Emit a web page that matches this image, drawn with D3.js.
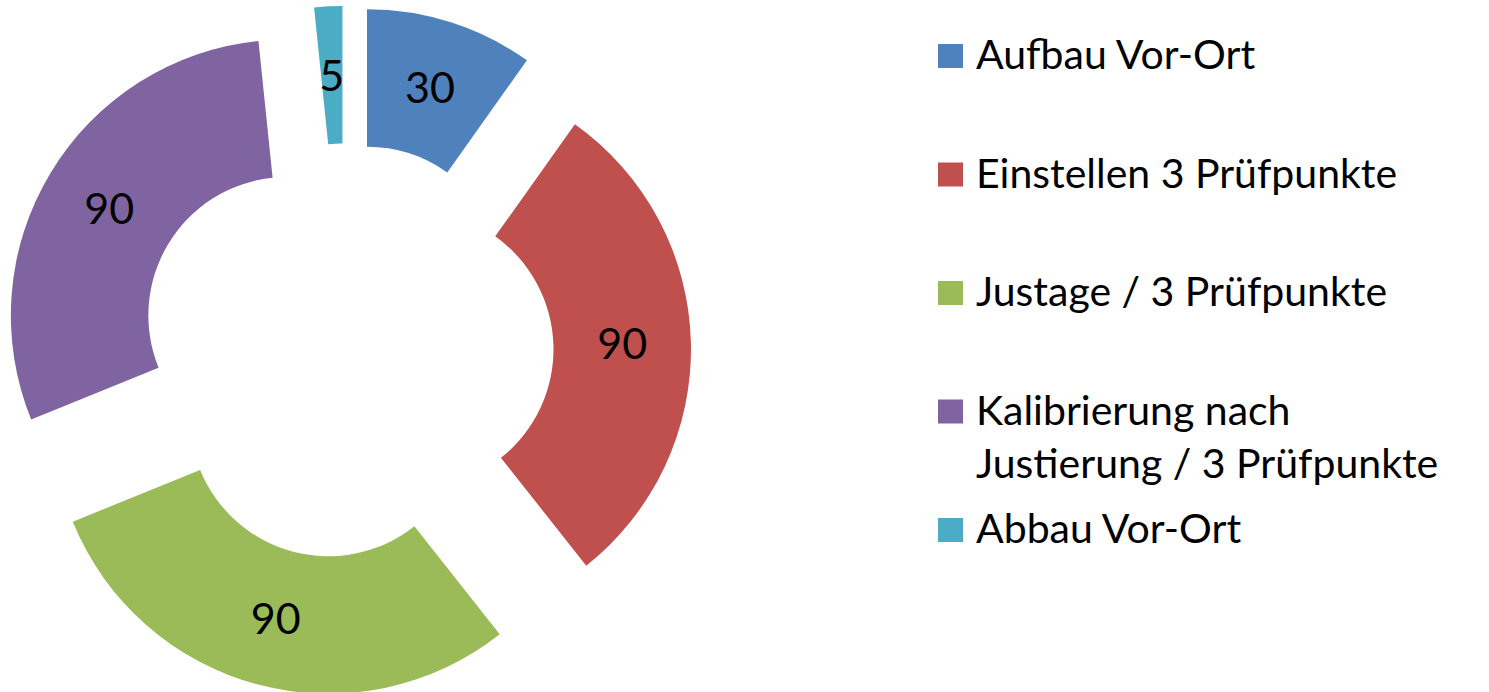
<!DOCTYPE html>
<html>
<head>
<meta charset="utf-8">
<script src="https://cdn.jsdelivr.net/npm/d3@7"></script>
<style>
  body { margin: 0; background: #fff; }
  svg { display: block; font-family: Lato, "Open Sans", sans-serif; }
</style>
</head>
<body>
<svg id="chart" width="1489" height="692"></svg>
<script>
// chart data
var categories = ["Aufbau Vor-Ort", "Einstellen 3 Prüfpunkte", "Justage / 3 Prüfpunkte",
                  "Kalibrierung nach Justierung / 3 Prüfpunkte", "Abbau Vor-Ort"];
var values = [30, 90, 90, 90, 5];
var colors = ["#4F81BD", "#C0504D", "#9BBB59", "#8064A2", "#4BACC6"];

var svg = d3.select("#chart"),
    cx = 346, cy = 351,
    outerR = 276, innerR = 138.5,
    explode = outerR * 0.25;

var pie = d3.pie().sort(null).value(function(d) { return d; });
var arc = d3.arc().innerRadius(innerR).outerRadius(outerR);
var arcs = pie(values);

var g = svg.append("g").attr("transform", "translate(" + cx + "," + cy + ")");

// each slice pushed outward along its middle angle
function shift(d) {
    var a = (d.startAngle + d.endAngle) / 2;
    return [Math.sin(a) * explode, -Math.cos(a) * explode];
}

var slice = g.selectAll(".slice")
    .data(arcs)
    .enter().append("g")
      .attr("class", "slice")
      .attr("transform", function(d) { var s = shift(d); return "translate(" + s[0] + "," + s[1] + ")"; });

slice.append("path")
    .attr("d", arc)
    .attr("fill", function(d, i) { return colors[i]; });

slice.append("text")
    .attr("transform", function(d) { return "translate(" + arc.centroid(d) + ")"; })
    .attr("text-anchor", "middle")
    .attr("dy", "0.36em")
    .style("font-size", "43px")
    .attr("fill", "#000")
    .text(function(d) { return d.data; });

// legend
var legendX = 938, legendTop = 69, legendStep = 118.5, lineH = 53, maxW = 470;

var legend = svg.append("g");

categories.forEach(function(name, i) {
    var base = legendTop + i * legendStep;
    legend.append("rect")
        .attr("x", legendX)
        .attr("y", base - 25)
        .attr("width", 25)
        .attr("height", 24)
        .attr("fill", colors[i]);

    var t = legend.append("text")
        .attr("x", legendX + 38)
        .attr("y", base)
        .style("font-size", "41px")
        .attr("fill", "#000");

    // wrap long names
    var words = name.split(" "), line = [], lineNo = 0;
    var tspan = t.append("tspan").attr("x", legendX + 38).attr("y", base);
    words.forEach(function(w) {
        line.push(w);
        tspan.text(line.join(" "));
        if (tspan.node().getComputedTextLength() > maxW && line.length > 1) {
            line.pop();
            tspan.text(line.join(" "));
            line = [w];
            lineNo++;
            tspan = t.append("tspan").attr("x", legendX + 38).attr("y", base + lineNo * lineH).text(w);
        }
    });
});
</script>
</body>
</html>
